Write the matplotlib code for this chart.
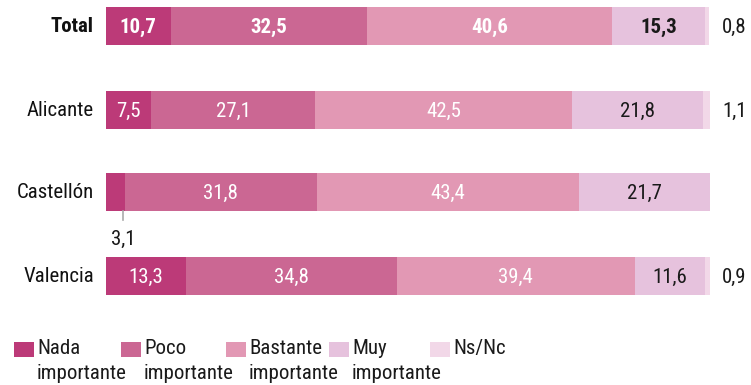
import matplotlib
matplotlib.use("Agg")
import matplotlib.pyplot as plt
from matplotlib import font_manager

available = {f.name for f in font_manager.fontManager.ttflist}
family = "Roboto"
for cand in ["Roboto Condensed", "Liberation Sans Narrow", "Roboto"]:
    if cand in available:
        family = cand
        break
plt.rcParams["font.family"] = [family, "DejaVu Sans"]

categories = ["Total", "Alicante", "Castellón", "Valencia"]
series_names = ["Nada\nimportante", "Poco\nimportante", "Bastante\nimportante",
                "Muy\nimportante", "Ns/Nc"]
nada = [10.7, 7.5, 3.1, 13.3]
poco = [32.5, 27.1, 31.8, 34.8]
bastante = [40.6, 42.5, 43.4, 39.4]
muy = [15.3, 21.8, 21.7, 11.6]
nsnc = [0.8, 1.1, 0.0, 0.9]
series = [nada, poco, bastante, muy, nsnc]
colors = ["#BC3A78", "#CB6793", "#E298B4", "#E6C2DD", "#F2D8E8"]
text_colors = ["white", "white", "white", "#1a1a1a", "#1a1a1a"]

W, H = 751, 385
fig = plt.figure(figsize=(W / 100, H / 100), dpi=100)
# axes: x from 106px to 710px, y rows centred at 26,110,192,276 px
ax = fig.add_axes([106 / W, 0, 604 / W, 1])
ax.set_xlim(0, 100)
ax.set_ylim(H, 0)
ax.axis("off")

ys = [26, 110, 192, 276]
bar_h = 38
fs = 15


def fmt(v):
    return f"{v:.1f}".replace(".", ",")


for i, cat in enumerate(categories):
    left = 0
    bold = i == 0
    for k, vals in enumerate(series):
        v = vals[i]
        if v <= 0:
            continue
        ax.barh(ys[i], v, left=left, height=bar_h, color=colors[k], linewidth=0)
        cx = left + v / 2
        if k < 4 and v >= 5:
            ax.text(cx, ys[i] + 1, fmt(v), ha="center", va="center",
                    color=text_colors[k], fontsize=fs,
                    fontweight="bold" if bold else "normal")
        left += v
    ax.text(-2.0, ys[i] + 1, cat, ha="right", va="center", fontsize=fs,
            fontweight="bold" if bold else "normal", color="#111111")
    # small segments annotated outside the bar
    if nsnc[i] > 0:
        ax.text(104.0, ys[i] + 1, fmt(nsnc[i]), ha="center",
                va="center", fontsize=fs, color="#1a1a1a")

# Castellón "Nada" value annotated below its bar with a leader line
ci = 2
xv = nada[ci] / 2 + 1.3
ax.plot([xv, xv], [ys[ci] + bar_h / 2, ys[ci] + bar_h / 2 + 9], color="#aaaaaa", lw=1.2)
ax.text(xv, ys[ci] + 47, fmt(nada[ci]), ha="center", va="center",
        fontsize=fs, color="#1a1a1a")

# legend
leg_x = [14, 121, 226, 329, 430]
for k, name in enumerate(series_names):
    x0 = leg_x[k]
    fig.patches.append(plt.Rectangle((x0 / W, 1 - 357 / H), 20 / W, 15 / H,
                                     transform=fig.transFigure, color=colors[k], lw=0))
    fig.text((x0 + 23) / W, 1 - 339 / H, name, ha="left", va="top", fontsize=fs,
             color="#1a1a1a", linespacing=1.4)

fig.savefig("out.png", dpi=100)
